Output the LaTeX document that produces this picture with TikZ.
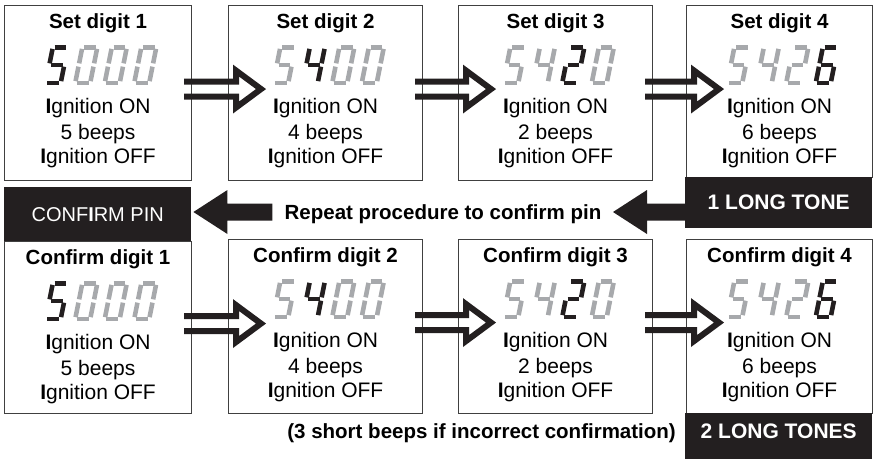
\documentclass[tikz,border=0pt]{standalone}
\usepackage{fontspec}
\setmainfont{Liberation Sans}
\usetikzlibrary{calc}
\definecolor{inkblack}{HTML}{231F20}
\definecolor{seggrey}{HTML}{A7A9AC}
% segments of the display digits (x1/y1/x2/y2)
\newcommand{\sega}{-7.5/-17.8/7.5/-17.8}
\newcommand{\segb}{7.5/-17.8/7.5/0}
\newcommand{\segc}{7.5/0/7.5/17.8}
\newcommand{\segd}{-7.5/17.8/7.5/17.8}
\newcommand{\sege}{-7.5/0/-7.5/17.8}
\newcommand{\segf}{-7.5/-17.8/-7.5/0}
\newcommand{\segg}{-7.5/0/7.5/0}
\newcommand{\digfive}{\sega,\segf,\segg,\segc,\segd}
\newcommand{\digfour}{\segf,\segg,\segb,\segc}
\newcommand{\digtwo}{\sega,\segb,\segg,\sege,\segd}
\newcommand{\digsix}{\sega,\segf,\segg,\sege,\segc,\segd}
\newcommand{\digzero}{\sega,\segb,\segc,\segd,\sege,\segf}
\newcommand{\dblarrow}[2]{%
  \draw[dblline] let \p1=(#1), \p2=(#2) in
    (\x1,{\y1+7.5pt}) -- ({\x2-25pt},{\y1+7.5pt}) -- ({\x2-25pt},{\y1+18.5pt})
    -- (\x2,\y1) -- ({\x2-25pt},{\y1-18.5pt}) -- ({\x2-25pt},{\y1-7.5pt}) -- (\x1,{\y1-7.5pt});}
\newcommand{\bigarrow}[2]{%
  \fill[inkblack] let \p1=(#1), \p2=(#2) in
    (\x1,{\y1+8.5pt}) -- ({\x2+34pt},{\y1+8.5pt}) -- ({\x2+34pt},{\y1+22pt})
    -- (\x2,\y1) -- ({\x2+34pt},{\y1-22pt}) -- ({\x2+34pt},{\y1-8.5pt}) -- (\x1,{\y1-8.5pt}) -- cycle;}
\tikzset{
	digitbox/.style = {draw=black!75, line width=1.1pt, anchor=north west, inner sep=0pt},
	tonebox/.style = {fill=inkblack, anchor=north west, inner sep=0pt, text=white,
		font=\fontsize{21}{25}\selectfont\bfseries, minimum width=187pt},
	title/.style = {anchor=base, inner sep=0pt, font=\fontsize{20.5}{24}\selectfont\bfseries},
	body/.style = {anchor=base, inner sep=0pt, font=\fontsize{21}{25}\selectfont},
	dblline/.style = {line width=6pt, line join=miter, draw=inkblack},
	segline/.style = {line width=4.6pt, shorten >=1.7pt, shorten <=1.7pt},
	pics/segdigit/.style 2 args = {code = {
		\edef\seglist{\csname dig#1\endcsname}
		\foreach \xa/\ya/\xb/\yb in \seglist
			{\draw[segline, draw=#2] ({\xa-0.2*\ya},\ya) -- ({\xb-0.2*\yb},\yb);}
	}}
}
\begin{document}
\begin{tikzpicture}[x=1pt,y=-1pt]
\useasboundingbox (0,0) rectangle (876,459);
% boxes
\node[digitbox, minimum width=187pt, minimum height=175pt] (s1) at (4,5) {};
\node[digitbox, minimum width=194pt, minimum height=175pt] (s2) at (228,5) {};
\node[digitbox, minimum width=194pt, minimum height=175pt] (s3) at (458,5) {};
\node[digitbox, minimum width=186pt, minimum height=172pt] (s4) at (686,5) {};
\node[digitbox, minimum width=187pt, minimum height=172pt] (c1) at (4,241) {};
\node[digitbox, minimum width=194pt, minimum height=174pt] (c2) at (228,239) {};
\node[digitbox, minimum width=194pt, minimum height=174pt] (c3) at (458,239) {};
\node[digitbox, minimum width=186pt, minimum height=174pt] (c4) at (686,239) {};
\node[tonebox, minimum height=51pt] (tone1) at (685,177) {1 LONG TONE};
\node[tonebox, minimum height=46pt, text depth=10pt] (tone2) at (685,413) {2 LONG TONES};
\node[tonebox, minimum height=54pt, font=\fontsize{20}{24}\selectfont] (confirm) at (4,187) {CONF\textbf{I}RM PIN};
% texts
\foreach \bx/\txt in {s1/Set digit 1,s2/Set digit 2,s3/Set digit 3,s4/Set digit 4,
	c1/Confirm digit 1,c2/Confirm digit 2,c3/Confirm digit 3,c4/Confirm digit 4}
	\node[title] (\bx-t) at ($(\bx.north)+(0,23)$) {\txt};
\foreach \bx/\n in {s1/5,s2/4,s3/2,s4/6,c1/5,c2/4,c3/2,c4/6} {
	\node[body] (\bx-on) at ($(\bx.north)+(0,108)$) {\textbf{I}gnition ON};
	\node[body] (\bx-bp) at ($(\bx.north)+(0,134.5)$) {\n\ beeps};
	\node[body] (\bx-off) at ($(\bx.north)+(0,158)$) {\textbf{I}gnition OFF};
}
\node[title] (repeat) at (443,219.5) {Repeat procedure to confirm pin};
\node[title, anchor=base east] (note) at (676,438) {(3 short beeps if incorrect confirmation)};
% display digits
\foreach \bx/\act in {s1/1,s2/2,s3/3,s4/4,c1/1,c2/2,c3/3,c4/4}
	\foreach \dg [count=\k] in {five,four,two,six} {
		\ifnum\k>\act\relax \def\dg{zero}\fi
		\ifnum\k=\act\relax \def\col{inkblack}\else\def\col{seggrey}\fi
		\pic at ($(\bx.north)+({3+29.5*(\k-2.5)},60)$) {segdigit={\dg}{\col}};
	}
% arrows
\foreach \a/\b in {s1/s2,s2/s3,s3/s4,c1/c2,c2/c3,c3/c4} {
	\coordinate (\a-out) at ($(\a.east)+(-8,-4)$);
	\coordinate (\b-in) at ($(\b.west)+(33,-4)$);
	\dblarrow{\a-out}{\b-in}
}
\coordinate (am) at (0,212);
\coordinate (tone1-out) at (tone1.west |- am);
\coordinate (repeat-in) at ($(tone1.west |- am)+(-72,0)$);
\coordinate (repeat-out) at ($(confirm.east |- am)+(81,0)$);
\coordinate (confirm-in) at ($(confirm.east |- am)+(2,0)$);
\bigarrow{tone1-out}{repeat-in}
\bigarrow{repeat-out}{confirm-in}
\end{tikzpicture}
\end{document}
